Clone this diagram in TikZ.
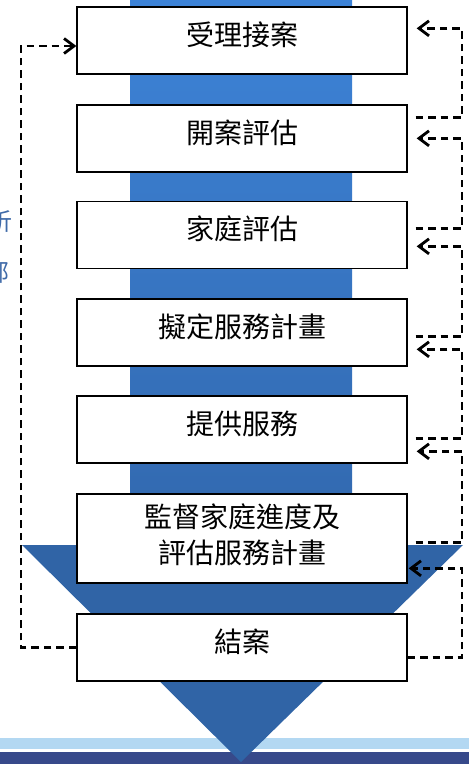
\documentclass[tikz,border=0pt]{standalone}
\usepackage{fontspec}
\newfontfamily\cjk{Noto Sans CJK TC}
\usetikzlibrary{arrows.meta,calc}
\definecolor{shafttop}{HTML}{3D83D7}
\definecolor{shaftbot}{HTML}{3268AE}
\definecolor{headblue}{HTML}{3064A6}
\definecolor{stripl}{HTML}{B3D8F2}
\definecolor{stripd}{HTML}{37498A}
\definecolor{sidetxt}{HTML}{3F6AA8}
\begin{document}
\begin{tikzpicture}[x=1pt,y=-1pt,
  box/.style={draw=black, line width=1.3pt, fill=white, minimum width=330pt, minimum height=67pt, inner sep=0pt},
  txt/.style={font=\cjk\fontsize{28pt}{36pt}\selectfont, align=center, inner sep=0pt},
  side/.style={font=\cjk\fontsize{24pt}{28pt}\selectfont, text=sidetxt, inner sep=0pt},
  fb/.style={draw=black, line width=2.8pt, dash pattern=on 7.5pt off 5pt},
  fbarrow/.style={fb, -{Straight Barb[length=10pt,width=15pt]}}]
\useasboundingbox (0,0) rectangle (469,764);
% bottom strips
\fill[stripl] (0,738) rectangle (469,749);
\fill[stripd] (0,752) rectangle (469,764);
% big arrow
\shade[top color=shafttop, bottom color=shaftbot] (130,0) rectangle (352,546);
\fill[headblue] (22,545) -- (463,545) -- (241,762) -- cycle;
% partial side text
\node[side] (p1) at (1,221) {析};
\node[side] (p2) at (-2,272) {部};
% boxes
\node[box] (b1) at (242,40.5) {};
\node[box] (b2) at (242,138.5) {};
\node[box] (b3) at (242,235) {};
\node[box] (b4) at (242,332.5) {};
\node[box] (b5) at (242,429.5) {};
\node[box, minimum height=89pt] (b6) at (242,538.5) {};
\node[box] (b7) at (242,647.5) {};
\node[txt] (t1) at ($(b1.center)+(0,-6)$) {受理接案};
\node[txt] (t2) at ($(b2.center)+(0,-6)$) {開案評估};
\node[txt] (t3) at ($(b3.center)+(0,-6)$) {家庭評估};
\node[txt] (t4) at ($(b4.center)+(0,-6)$) {擬定服務計畫};
\node[txt] (t5) at ($(b5.center)+(0,-6)$) {提供服務};
\node[txt] (t6) at ($(b6.center)+(0,-3.5)$) {監督家庭進度及\\評估服務計畫};
\node[txt] (t7) at ($(b7.center)+(0,-6)$) {結案};
% rails
\coordinate (rrail) at (462,0);
\coordinate (lrail) at (21,0);
% right feedback connectors
\coordinate (e1) at ($(b1.north east)+(9,22)$);
\coordinate (s2) at ($(b2.north east)+(8,13)$);
\coordinate (e2) at ($(b2.north east)+(9,34)$);
\coordinate (s3) at ($(b3.north east)+(8,27.5)$);
\coordinate (e3) at ($(b3.north east)+(9,45.5)$);
\coordinate (s4) at ($(b4.north east)+(8,38)$);
\coordinate (e4) at ($(b4.north east)+(9,51)$);
\coordinate (s5) at ($(b5.north east)+(8,43)$);
\coordinate (e5) at ($(b5.north east)+(9,56)$);
\coordinate (s6) at ($(b6.north east)+(8,49)$);
\coordinate (e6) at ($(b6.north east)+(1,75)$);
\coordinate (s7) at ($(b7.north east)+(0,44)$);
\draw[fbarrow] (s2) -- (s2 -| rrail) -- (rrail |- e1) -- (e1);
\draw[fbarrow] (s3) -- (s3 -| rrail) -- (rrail |- e2) -- (e2);
\draw[fbarrow] (s4) -- (s4 -| rrail) -- (rrail |- e3) -- (e3);
\draw[fbarrow] (s5) -- (s5 -| rrail) -- (rrail |- e4) -- (e4);
\draw[fbarrow] (s6) -- (s6 -| rrail) -- (rrail |- e5) -- (e5);
\draw[fbarrow] (s7) -- (s7 -| rrail) -- (rrail |- e6) -- (e6);
% left feedback connector
\coordinate (l1) at ($(b1.west)+(0,5.5)$);
\draw[fbarrow] (b7.west) -- (b7.west -| lrail) -- (lrail |- l1) -- (l1);
\end{tikzpicture}
\end{document}
